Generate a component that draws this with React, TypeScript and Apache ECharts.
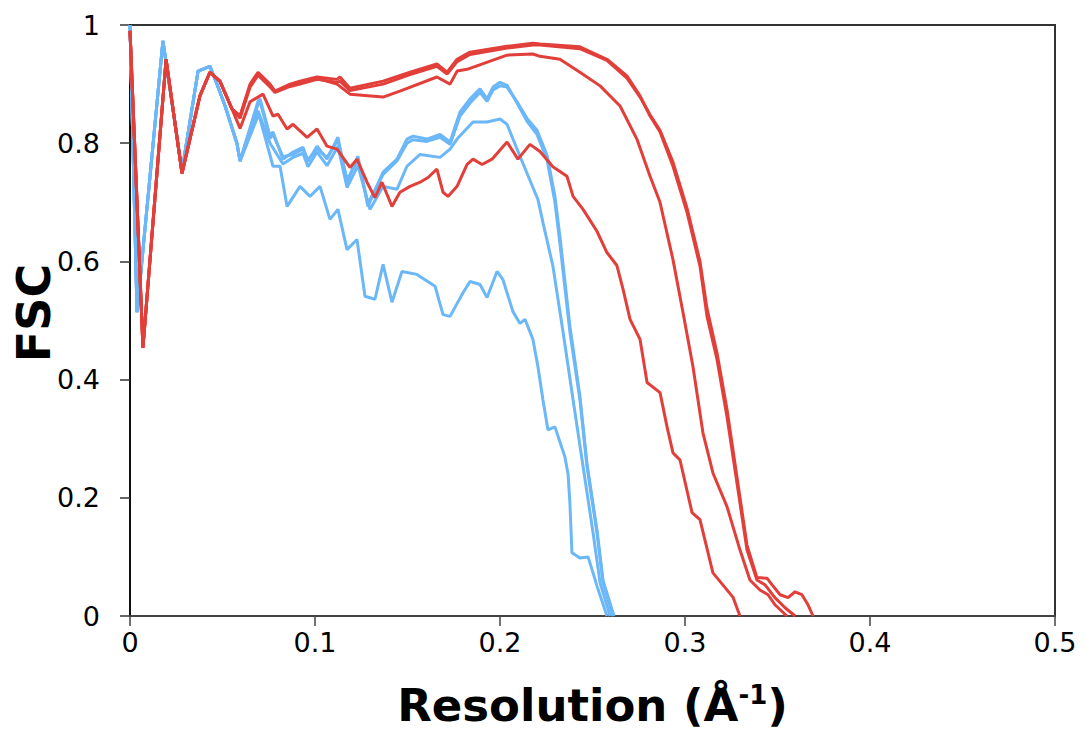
import React, { useEffect, useRef } from "react";
import * as echarts from "echarts";

const RED = "#e23f3a";
const BLUE = "#6bb7f7";

const xTicks = [0, 0.1, 0.2, 0.3, 0.4, 0.5];
const yTicks = [0, 0.2, 0.4, 0.6, 0.8, 1];

const redStart: number[][] = [
  [0, 0.99], [0.007, 0.454], [0.0195, 0.942], [0.0281, 0.749], [0.0378, 0.88],
  [0.0432, 0.92], [0.0486, 0.905], [0.0551, 0.858],
];

const blueStart: number[][] = [
  [0, 1.0], [0.0038, 0.514], [0.0178, 0.973], [0.0281, 0.753], [0.0368, 0.922],
  [0.0432, 0.93], [0.047, 0.9], [0.0514, 0.863], [0.0578, 0.8], [0.0595, 0.77],
];

const red1: number[][] = [
  [0.0595, 0.846], [0.0649, 0.9], [0.0692, 0.92], [0.0757, 0.9], [0.0784, 0.888],
  [0.0865, 0.9], [0.0919, 0.905], [0.1011, 0.912], [0.1119, 0.908], [0.1135, 0.912],
  [0.1189, 0.893], [0.1368, 0.905], [0.1514, 0.92], [0.1659, 0.934], [0.1714, 0.92],
  [0.1768, 0.942], [0.1838, 0.954], [0.2038, 0.964], [0.2178, 0.969], [0.2216, 0.968],
  [0.2432, 0.963], [0.2578, 0.942], [0.2686, 0.914], [0.2757, 0.88], [0.2811, 0.846],
  [0.2865, 0.819], [0.2935, 0.761], [0.3011, 0.683], [0.3081, 0.592], [0.3119, 0.507],
  [0.3173, 0.434], [0.3227, 0.337], [0.3281, 0.225], [0.3335, 0.112], [0.3389, 0.061],
  [0.3432, 0.053], [0.3486, 0.031], [0.3541, 0.014], [0.3595, 0],
];

const red2: number[][] = [
  [0.0595, 0.842], [0.0649, 0.895], [0.0692, 0.915], [0.0757, 0.895], [0.0784, 0.886],
  [0.0865, 0.896], [0.0919, 0.9], [0.1011, 0.908], [0.1119, 0.903], [0.1135, 0.905],
  [0.1189, 0.889], [0.1368, 0.9], [0.1514, 0.916], [0.1659, 0.93], [0.1714, 0.917],
  [0.1768, 0.938], [0.1838, 0.95], [0.2038, 0.961], [0.2178, 0.966], [0.2216, 0.966],
  [0.2432, 0.96], [0.2578, 0.94], [0.2686, 0.91], [0.2757, 0.878], [0.2811, 0.848],
  [0.2865, 0.822], [0.2935, 0.768], [0.3011, 0.69], [0.3081, 0.6], [0.3119, 0.52],
  [0.3173, 0.445], [0.3227, 0.35], [0.3281, 0.235], [0.3335, 0.12], [0.3389, 0.065],
  [0.3443, 0.064], [0.347, 0.053], [0.3514, 0.036], [0.3557, 0.031], [0.3595, 0.041],
  [0.3632, 0.036], [0.3665, 0.019], [0.3692, 0],
];

const red3: number[][] = [
  [0.0595, 0.846], [0.0649, 0.898], [0.0692, 0.918], [0.0757, 0.898], [0.0784, 0.887],
  [0.0865, 0.898], [0.0919, 0.903], [0.1011, 0.91], [0.1119, 0.9], [0.1189, 0.883],
  [0.1368, 0.878], [0.1459, 0.888], [0.1659, 0.912], [0.173, 0.9], [0.1768, 0.922],
  [0.1822, 0.925], [0.2038, 0.949], [0.2178, 0.951], [0.2216, 0.947], [0.2324, 0.942],
  [0.2432, 0.92], [0.2541, 0.897], [0.2649, 0.863], [0.274, 0.807], [0.2811, 0.744],
  [0.2865, 0.7], [0.2935, 0.603], [0.2989, 0.514], [0.3043, 0.422], [0.3097, 0.31],
  [0.3151, 0.242], [0.3227, 0.185], [0.3297, 0.112], [0.3351, 0.061], [0.3405, 0.044],
  [0.3449, 0.036], [0.3486, 0.019], [0.3551, 0],
];

const red4: number[][] = [
  [0.0595, 0.825], [0.0649, 0.87], [0.0719, 0.883], [0.0773, 0.846], [0.08, 0.849],
  [0.0849, 0.824], [0.0881, 0.832], [0.0957, 0.81], [0.1011, 0.824], [0.1065, 0.795],
  [0.1119, 0.79], [0.1189, 0.759], [0.1227, 0.773], [0.1281, 0.734], [0.1324, 0.708],
  [0.1362, 0.734], [0.1416, 0.693], [0.1459, 0.717], [0.1514, 0.727], [0.1568, 0.734],
  [0.1611, 0.742], [0.1659, 0.756], [0.1692, 0.717], [0.1719, 0.71], [0.1768, 0.727],
  [0.1822, 0.764], [0.1854, 0.773], [0.1903, 0.764], [0.1957, 0.773], [0.2038, 0.802],
  [0.2097, 0.773], [0.2162, 0.798], [0.2216, 0.786], [0.2286, 0.76], [0.2362, 0.744],
  [0.2395, 0.71], [0.2449, 0.688], [0.2524, 0.651], [0.2578, 0.615], [0.2632, 0.593],
  [0.2665, 0.553], [0.2703, 0.502], [0.2757, 0.468], [0.2795, 0.395], [0.2865, 0.378],
  [0.2903, 0.32], [0.2935, 0.276], [0.2973, 0.264], [0.3038, 0.175], [0.3081, 0.163],
  [0.3151, 0.073], [0.3259, 0.032], [0.3297, 0],
];

const blue1: number[][] = [
  [0.0692, 0.871], [0.0703, 0.875], [0.0757, 0.812], [0.0773, 0.819], [0.0827, 0.773],
  [0.0881, 0.785], [0.0935, 0.793], [0.0962, 0.769], [0.1011, 0.795], [0.1065, 0.773],
  [0.1124, 0.81], [0.1173, 0.734], [0.1232, 0.778], [0.1286, 0.693], [0.1368, 0.751],
  [0.1443, 0.773], [0.1497, 0.807], [0.153, 0.812], [0.1605, 0.807], [0.1676, 0.815],
  [0.173, 0.802], [0.1784, 0.853], [0.1838, 0.875], [0.1892, 0.892], [0.193, 0.875],
  [0.1962, 0.895], [0.2, 0.903], [0.2038, 0.898], [0.2092, 0.868], [0.2146, 0.837],
  [0.22, 0.815], [0.2254, 0.773], [0.2297, 0.7], [0.2324, 0.63], [0.2378, 0.48],
  [0.2432, 0.366], [0.247, 0.253], [0.2524, 0.141], [0.2557, 0.056], [0.2611, 0],
];

const blue2: number[][] = [
  [0.0692, 0.866], [0.0703, 0.87], [0.0757, 0.808], [0.0773, 0.815], [0.0827, 0.777],
  [0.0881, 0.781], [0.0935, 0.79], [0.0962, 0.772], [0.1011, 0.79], [0.1065, 0.776],
  [0.1124, 0.805], [0.1173, 0.738], [0.1232, 0.772], [0.1286, 0.698], [0.1368, 0.747],
  [0.1443, 0.77], [0.1497, 0.8], [0.153, 0.806], [0.1605, 0.803], [0.1676, 0.81],
  [0.173, 0.798], [0.1784, 0.846], [0.1838, 0.868], [0.1892, 0.886], [0.193, 0.871],
  [0.1962, 0.89], [0.2, 0.897], [0.2038, 0.895], [0.2092, 0.87], [0.2146, 0.842],
  [0.22, 0.822], [0.2254, 0.78], [0.2297, 0.71], [0.2324, 0.642], [0.2378, 0.49],
  [0.2432, 0.372], [0.247, 0.258], [0.2524, 0.146], [0.2557, 0.06], [0.2616, 0],
];

const blue3: number[][] = [
  [0.0692, 0.855], [0.0757, 0.8], [0.0827, 0.765], [0.0881, 0.776], [0.0935, 0.783],
  [0.0962, 0.76], [0.1011, 0.785], [0.1065, 0.762], [0.1124, 0.795], [0.1173, 0.725],
  [0.1232, 0.762], [0.1297, 0.688], [0.1368, 0.727], [0.1443, 0.722], [0.1497, 0.761],
  [0.1568, 0.781], [0.1676, 0.776], [0.173, 0.79], [0.1768, 0.807], [0.1854, 0.836],
  [0.193, 0.836], [0.2, 0.841], [0.2038, 0.832], [0.2108, 0.778], [0.2178, 0.725],
  [0.2205, 0.705], [0.2232, 0.666], [0.2286, 0.592], [0.2341, 0.48], [0.2395, 0.366],
  [0.2449, 0.253], [0.2503, 0.141], [0.2541, 0.056], [0.2595, 0],
];

const blue4: number[][] = [
  [0.0692, 0.846], [0.0703, 0.841], [0.0773, 0.761], [0.0811, 0.761], [0.0849, 0.693],
  [0.0919, 0.727], [0.0973, 0.71], [0.1027, 0.727], [0.1081, 0.671], [0.1124, 0.688],
  [0.1173, 0.62], [0.1227, 0.637], [0.127, 0.541], [0.1324, 0.536], [0.1368, 0.595],
  [0.1416, 0.531], [0.147, 0.583], [0.1551, 0.578], [0.1649, 0.558], [0.1692, 0.51],
  [0.173, 0.507], [0.18, 0.547], [0.1838, 0.566], [0.1892, 0.561], [0.193, 0.539],
  [0.1984, 0.583], [0.2016, 0.569], [0.207, 0.515], [0.2108, 0.495], [0.2135, 0.502],
  [0.2178, 0.468], [0.2205, 0.422], [0.2232, 0.366], [0.2259, 0.315], [0.2297, 0.32],
  [0.2351, 0.269], [0.2368, 0.24], [0.2378, 0.19], [0.2389, 0.107], [0.2432, 0.098],
  [0.2476, 0.1], [0.2503, 0.073], [0.2524, 0.051], [0.2557, 0.02], [0.2578, 0],
];

const blueCurves = [blue4, blue3, blue2, blue1];
const redCurves = [red4, red3, red2, red1];

const FONT = "'DejaVu Sans', Verdana, sans-serif";

export default function App() {
  const ref = useRef<HTMLDivElement>(null);
  useEffect(() => {
    document.body.style.margin = "0";
    const chart = echarts.init(ref.current!, null, { renderer: "svg" });
    const fmt = (v: number) => String(Math.round(v * 10) / 10);
    const series: any[] = [];
    blueCurves.forEach((c, i) => {
      series.push({
        type: "line", name: "blue" + i, data: blueStart.concat(c), showSymbol: false,
        lineStyle: { color: BLUE, width: 3 }, itemStyle: { color: BLUE }, z: 2,
      });
    });
    redCurves.forEach((c, i) => {
      series.push({
        type: "line", name: "red" + i, data: redStart.concat(c), showSymbol: false,
        lineStyle: { color: RED, width: 3 }, itemStyle: { color: RED }, z: 3,
      });
    });
    chart.setOption({
      animation: false,
      backgroundColor: "#ffffff",
      grid: {
        left: 130, right: 31, top: 25, bottom: 114, show: true,
        borderColor: "#333", borderWidth: 2, containLabel: false, outerBoundsMode: "none",
      },
      graphic: [
        {
          type: "text", x: 34, y: 313, rotation: Math.PI / 2,
          style: {
            text: "FSC", fill: "#000", fontSize: 46, fontWeight: "bold", fontFamily: FONT,
            align: "center", verticalAlign: "middle",
          },
        },
      ],
      xAxis: {
        type: "value", min: xTicks[0], max: xTicks[xTicks.length - 1], interval: 0.1,
        axisLine: { show: true, onZero: false, lineStyle: { color: "#444", width: 2 } },
        axisTick: { show: true, inside: false, length: 10, lineStyle: { color: "#444", width: 1.5 } },
        axisLabel: { formatter: fmt, color: "#000", fontSize: 27, fontFamily: FONT, margin: 13 },
        splitLine: { show: false },
        name: "Resolution (Å{sup|-1})",
        nameLocation: "middle",
        nameGap: 66,
        nameTextStyle: {
          color: "#000", fontSize: 45, fontWeight: "bold", fontFamily: FONT,
          rich: { sup: { fontSize: 26, fontWeight: "bold", fontFamily: FONT, color: "#000", verticalAlign: "top", padding: [0, 0, 20, 0] } },
        },
      },
      yAxis: {
        type: "value", min: yTicks[0], max: yTicks[yTicks.length - 1], interval: 0.2,
        axisLine: { show: true, onZero: false, lineStyle: { color: "#111", width: 2 } },
        axisTick: { show: true, inside: false, length: 10, lineStyle: { color: "#333", width: 1.5 } },
        axisLabel: { formatter: fmt, color: "#000", fontSize: 27, fontFamily: FONT, margin: 30 },
        splitLine: { show: false },
      },
      series,
    });
    return () => chart.dispose();
  }, []);
  return <div ref={ref} style={{ width: 1086, height: 730 }} />;
}
